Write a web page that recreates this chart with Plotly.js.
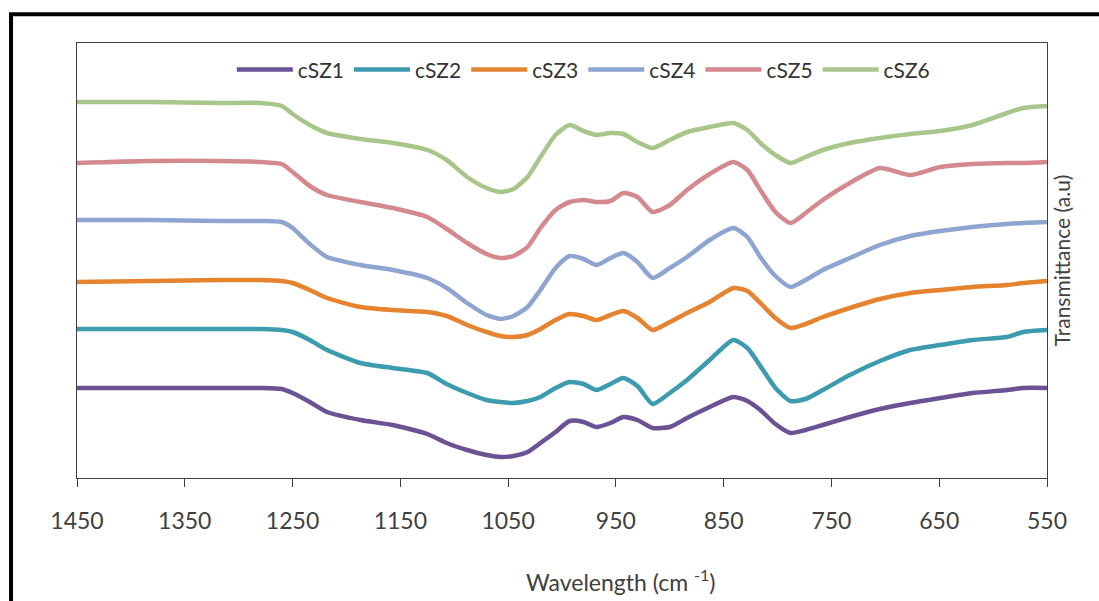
<!DOCTYPE html>
<html>
<head>
<meta charset="utf-8">
<script src="https://cdn.plot.ly/plotly-3.0.1.min.js"></script>
<style>html,body{margin:0;padding:0;background:#fff;}#chart{width:1099px;height:601px;}</style>
</head>
<body>
<div id="chart"></div>
<script>
// Wavenumber (cm-1)
var wavenumber = [1450,1382,1317,1280,1260,1250,1234,1218,1187,1157,
                  1125,1107,1088,1070,1057,1045,1032,1020,1006,993,
                  980,968,955,943,930,916,900,884,863,841,
                  828,816,802,788,774,758,733,705,677,649,
                  619,587,572,550];
// Transmittance (a.u., stacked)
var cSZ1 = [90,90,90,90,89,85,76,66,58,53,
            44,35,28,23,21,22,26,35,46,57,
            56,51,55,61,58,50,51,60,71,81,
            77,68,54,45,48,53,61,69,75,80,
            85,88,90,90];
var cSZ2 = [149,149,149,149,148,146,138,128,115,110,
            105,94,85,78,76,75,77,81,90,96,
            94,88,94,100,92,74,85,98,118,138,
            130,112,90,77,79,88,103,117,128,133,
            138,141,146,148];
var cSZ3 = [196,197,198,198,197,195,188,180,171,168,
            166,162,153,146,142,141,143,149,158,164,
            162,158,163,167,160,148,156,165,176,190,
            187,175,160,150,154,161,170,179,185,188,
            191,193,195,197];
var cSZ4 = [258,258,257,257,256,250,234,221,213,208,
            200,190,175,163,159,162,171,188,210,222,
            219,213,220,225,216,200,210,221,238,250,
            241,221,202,191,198,208,220,233,242,247,
            251,254,255,256];
var cSZ5 = [315,317,317,316,314,306,292,283,276,270,
            261,249,235,224,220,222,231,250,268,276,
            278,276,277,285,281,266,273,288,304,316,
            308,288,266,255,265,278,295,310,303,311,
            314,315,315,316];
var cSZ6 = [376,376,375,375,372,364,353,345,339,335,
            328,318,301,290,286,289,301,321,343,353,
            347,343,345,344,336,330,338,346,351,355,
            348,335,323,315,321,328,335,340,344,347,
            353,365,370,372];
var seriesNames = ['cSZ1','cSZ2','cSZ3','cSZ4','cSZ5','cSZ6'];
var seriesData = [cSZ1,cSZ2,cSZ3,cSZ4,cSZ5,cSZ6];
var seriesColors = ['#6b5295','#3d9bb0','#e5832f','#8ea5d1','#d4898e','#a9c68a'];
var xTicks = [1450,1350,1250,1150,1050,950,850,750,650,550];

var FONT = 'Lato, "Open Sans", sans-serif';
var traces = seriesNames.map(function(n,i){
  return {x: wavenumber, y: seriesData[i], name: n, type:'scatter', mode:'lines',
          line:{color: seriesColors[i], width:4.5, shape:'spline', smoothing:0.6}};
});

var layout = {
  width:1099, height:601,
  margin:{l:77, r:52, t:43, b:123},
  paper_bgcolor:'#fff', plot_bgcolor:'#fff',
  font:{family:FONT, color:'#404040'},
  showlegend:true,
  legend:{orientation:'h', x:0.522, y:0.938, xanchor:'center', yanchor:'middle',
          bgcolor:'rgba(0,0,0,0)', font:{size:21, color:'#333', family:FONT},
          itemwidth:56, tracegroupgap:0},
  xaxis:{range:[1450,550], tickmode:'array', tickvals:xTicks, ticktext:xTicks.map(String),
         ticks:'outside', ticklen:8, tickcolor:'#404040', tickwidth:1,
         showline:true, mirror:true, linecolor:'#404040', linewidth:1,
         showgrid:false, zeroline:false, ticklabelstandoff:14,
         tickfont:{size:23, color:'#404040', family:FONT}},
  yaxis:{range:[0,435], side:'right', showticklabels:false, ticks:'',
         showline:true, mirror:true, linecolor:'#404040', linewidth:1,
         showgrid:false, zeroline:false,
         title:{text:'Transmittance (a.u)', font:{size:21, color:'#404040', family:FONT}, standoff:8}},
  annotations:[{xref:'paper', yref:'paper', x:0.56, y:-0.2345, xanchor:'center', yanchor:'middle',
                showarrow:false, text:'Wavelength (cm <sup>-1</sup>)',
                font:{size:23, color:'#404040', family:FONT}}],
  shapes:[{type:'rect', xref:'paper', yref:'paper', x0:-0.0680, x1:1.1, y0:-0.35, y1:1.066,
           line:{color:'#000', width:4}, fillcolor:'rgba(0,0,0,0)', layer:'below'}]
};
Plotly.newPlot('chart', traces, layout, {displayModeBar:false, staticPlot:true});
</script>
</body>
</html>
